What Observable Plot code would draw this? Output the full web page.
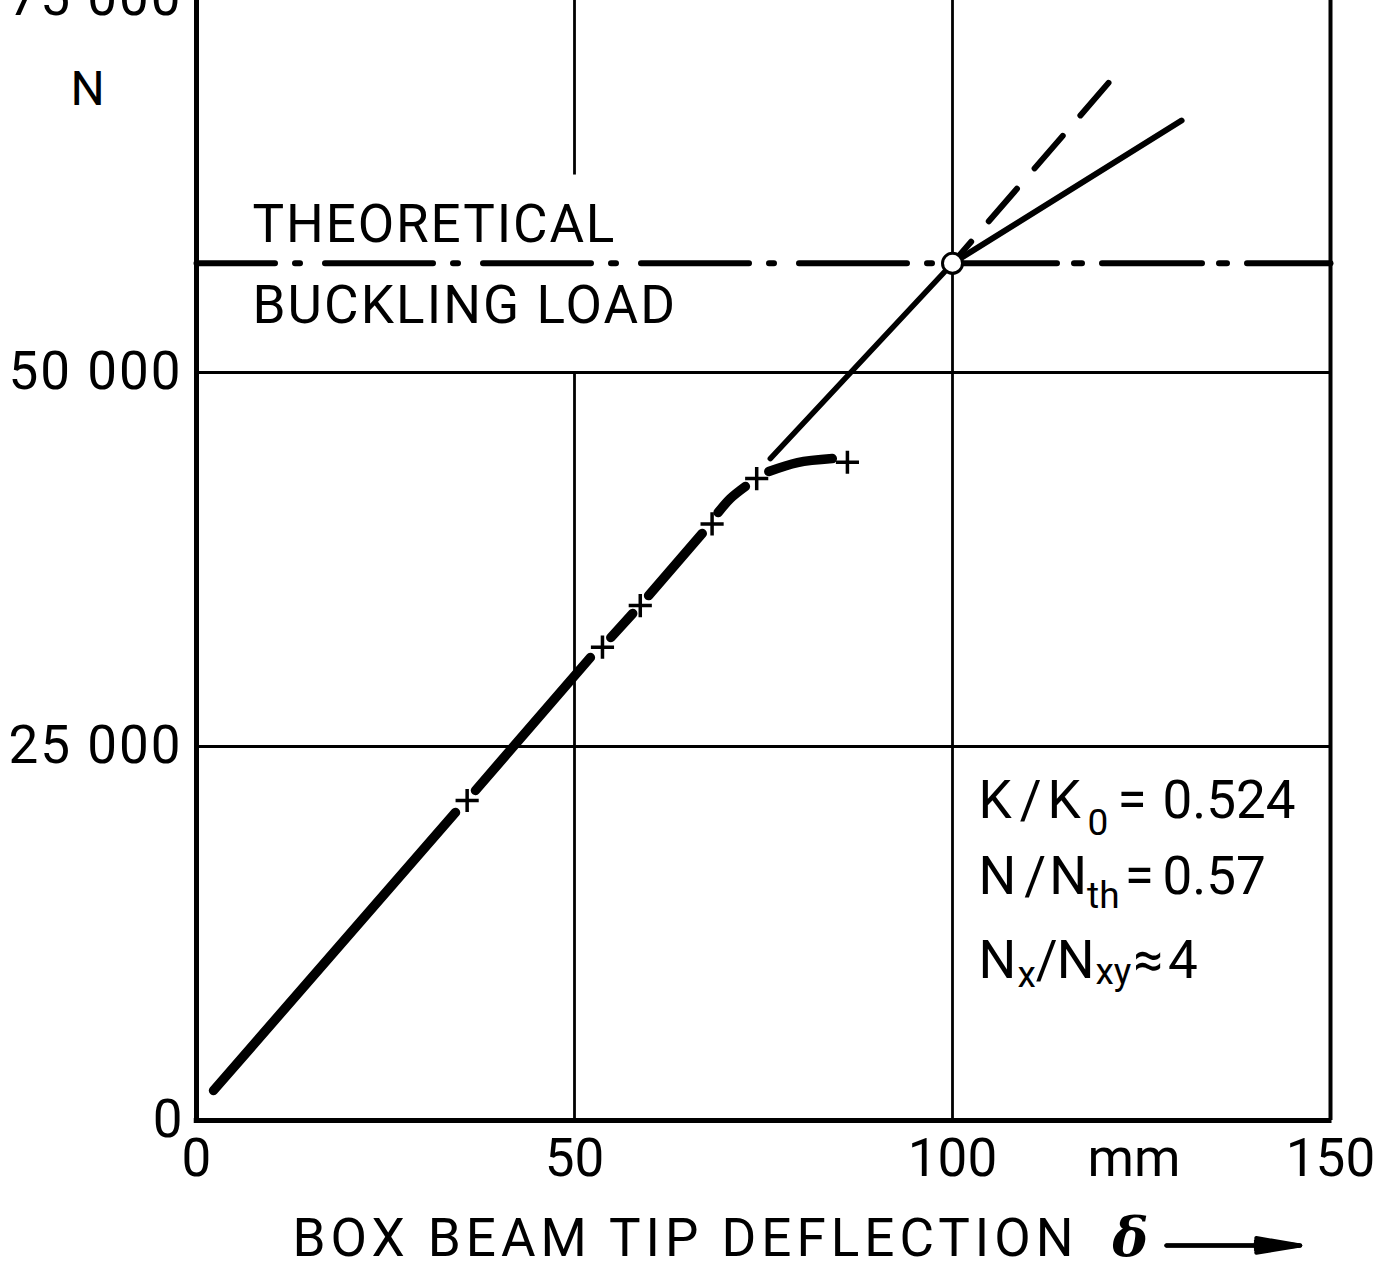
<!DOCTYPE html>
<html><head><meta charset="utf-8">
<script src="https://cdn.jsdelivr.net/npm/d3@7"></script>
<script src="https://cdn.jsdelivr.net/npm/@observablehq/plot@0.6"></script>
<style>
html,body{margin:0;padding:0;background:#fff;overflow:hidden}
#chart svg{display:block}
</style></head><body><div id="chart"></div>
<script>
// ---- axes ----
const xTicks = [0, 50, 100, 150];
const xTickLabels = ["0", "50", "100", "150"];
const yTicks = [0, 25000, 50000, 75000];
const yTickLabels = ["0", "25 000", "50 000", "75 000"];

// ---- theoretical buckling load (N) ----
const bucklingLoad = 57300;

// ---- experimental curve (mm, N), drawn in pieces between the markers ----
const expSegment = ["A","A","B","B","C","C","D","D","E","E","E","F","F","F"];
const expX = [2.25, 34.26, 36.9, 52.1, 54.8, 57.7, 59.8, 66.9, 69.0, 70.6, 72.6, 75.7, 79.5, 84.1];
const expY = [2005, 20590, 22060, 30950, 32280, 33890, 35090, 39240, 40640, 41570, 42380, 43380, 43980, 44250];

// ---- measured points (+) ----
const markerX = [35.8, 53.7, 58.7, 68.2, 74.1, 86.1];
const markerY = [21390, 31640, 34420, 39880, 42910, 44000];

// ---- theory lines ----
const preX = [75.9, 100];
const preY = [44250, bucklingLoad];
const postSolidX = [100, 130.3];
const postSolidY = [bucklingLoad, 66840];
const postDashX = [100, 121.1];
const postDashY = [bucklingLoad, 69630];

// ---- parameter box ----
const annoText = ["K","/","K","0","=","0.524",
                  "N","/","N","th","=","0.57",
                  "N","x","/","N","xy","≈","4"];
const annoX = [103.44,108.9,112.57,117.86,121.83,127.78,
               103.44,109.5,112.8,117.8,122.8,127.78,
               103.44,108.6,111.0,113.8,118.9,123.9,128.5];
const annoY = [21322,21322,21322,19851,21322,21322,
               16242,16242,16242,14972,16242,16242,
               10628,9692,10628,10628,9892,10628,10628];
const annoSub = [0,0,0,1,0,0, 0,0,0,1,0,0, 0,1,0,0,1,0,0];

const table = (xs, ys, extra = {}) => xs.map((x, i) => ({x, y: ys[i], ...Object.fromEntries(Object.entries(extra).map(([k, v]) => [k, v[i]]))}));
const exp = table(expX, expY, {seg: expSegment});
const markers = table(markerX, markerY);
const anno = table(annoX, annoY, {t: annoText, sub: annoSub});

const big = 53, small = 37;
const arrowSpan = [{a: 128.3, b: 146}];

const chart = Plot.plot({
  width: 1385,
  height: 1272,
  marginLeft: 196, marginRight: 55, marginTop: 0, marginBottom: 152,
  x: {domain: [0, 150], range: [196, 1330], axis: null},
  y: {domain: [0, 75000], range: [1120, -2], axis: null},
  style: {fontFamily: "Roboto, 'DejaVu Sans', sans-serif", background: "white", color: "black", overflow: "visible"},
  marks: [
    // grid
    Plot.ruleY([25000, 50000], {x1: 0, x2: 150, strokeWidth: 2.8}),
    Plot.ruleX([{x: 50, a: 0, b: 50000}, {x: 50, a: 63200, b: 75000}], {x: "x", y1: "a", y2: "b", strokeWidth: 2.8}),
    Plot.ruleX([100], {y1: 0, y2: 75000, strokeWidth: 2.8}),
    // frame
    Plot.ruleX([0], {y1: 0, y2: 75000, strokeWidth: 5}),
    Plot.ruleX([150], {y1: 0, y2: 75000, strokeWidth: 4}),
    Plot.ruleY([0], {x1: -0.3, x2: 150.2, strokeWidth: 5}),
    // theoretical buckling load, dash-dot
    Plot.line([{x: 0, y: bucklingLoad}, {x: 100, y: bucklingLoad}], {x: "x", y: "y", strokeWidth: 6, strokeLinecap: "round", strokeDasharray: "108,20,5,25", strokeDashoffset: 29.5}),
    Plot.line([{x: 100, y: bucklingLoad}, {x: 150, y: bucklingLoad}], {x: "x", y: "y", strokeWidth: 6, strokeLinecap: "round", strokeDasharray: "100,17,8,20", strokeDashoffset: 140.5}),
    // theory lines
    Plot.line(table(preX, preY), {x: "x", y: "y", strokeWidth: 5.5, strokeLinecap: "round"}),
    Plot.line(table(postSolidX, postSolidY), {x: "x", y: "y", strokeWidth: 6, strokeLinecap: "round"}),
    Plot.line(table(postDashX, postDashY), {x: "x", y: "y", strokeWidth: 6, strokeLinecap: "round", strokeDasharray: "43,27", strokeDashoffset: 14.5}),
    // experiment
    Plot.line(exp, {x: "x", y: "y", z: "seg", curve: "catmull-rom", strokeWidth: 9.5, strokeLinecap: "round"}),
    Plot.dot(markers, {x: "x", y: "y", symbol: "plus", r: 7.5, stroke: "black", strokeWidth: 3.5}),
    // bifurcation point
    Plot.dot([{x: 100, y: bucklingLoad}], {x: "x", y: "y", r: 10, fill: "white", stroke: "black", strokeWidth: 3}),
    // tick labels
    Plot.text(xTicks, {x: d => d, y: 0, text: (d, i) => xTickLabels[i], dy: 39, fontSize: big}),
    Plot.text(yTicks, {x: 0, y: d => d, text: (d, i) => yTickLabels[i], dx: -14, textAnchor: "end", fontSize: big}),
    // axis labels
    Plot.text(["N"], {x: -14.4, y: 68910, fontSize: 48}),
    Plot.text(["mm"], {x: 124, y: -2600, fontSize: big}),
    Plot.text(["BOX BEAM TIP DEFLECTION"], {x: 12.7, y: -7950, textAnchor: "start", fontSize: big}),
    Plot.text(["δ"], {x: 123.5, y: -7900, fontSize: 54, fontFamily: "'DejaVu Serif', serif", fontWeight: "bold", fontStyle: "italic"}),
    Plot.arrow(arrowSpan, {x1: "a", x2: "b", y1: -8350, y2: -8350, strokeWidth: 4, headLength: 60, headAngle: 19}),
    Plot.arrow(arrowSpan, {x1: "a", x2: "b", y1: -8350, y2: -8350, strokeWidth: 4, headLength: 60, headAngle: 12}),
    Plot.arrow(arrowSpan, {x1: "a", x2: "b", y1: -8350, y2: -8350, strokeWidth: 4, headLength: 60, headAngle: 6}),
    // in-plot labels
    Plot.text(["THEORETICAL", "BUCKLING LOAD"], {x: 7.4, y: (d, i) => [59890, 54470][i], textAnchor: "start", fontSize: big}),
    // parameter box
    Plot.text(anno.filter(d => !d.sub), {x: "x", y: "y", text: "t", textAnchor: "start", fontSize: big}),
    Plot.text(anno.filter(d => d.sub), {x: "x", y: "y", text: "t", textAnchor: "start", fontSize: small})
  ]
});

// letter spacing of the stencil-like lettering
const spacing = {"THEORETICAL": 1.9, "BUCKLING LOAD": 2.1, "BOX BEAM TIP DEFLECTION": 5,
                 "25 000": 2, "50 000": 2, "75 000": 2};
d3.select(chart).selectAll("text").each(function () {
  const s = spacing[this.textContent];
  if (s) this.style.letterSpacing = s + "px";
});
document.getElementById("chart").append(chart);
</script></body></html>
